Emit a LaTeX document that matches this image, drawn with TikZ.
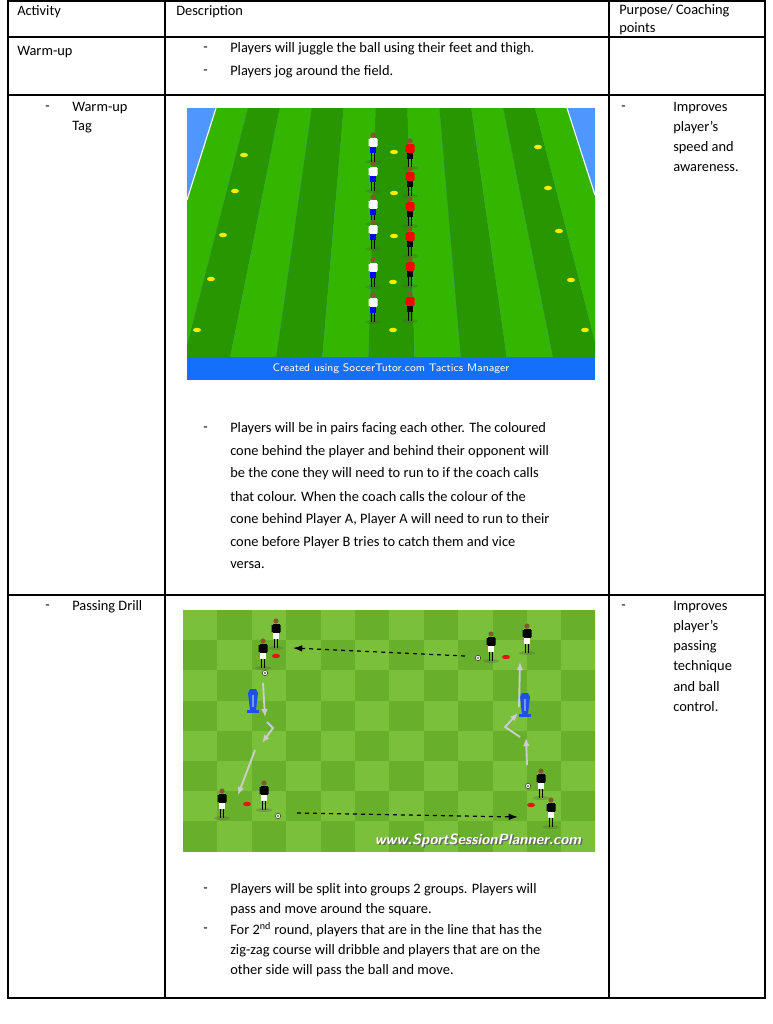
\documentclass[tikz,border=0pt]{standalone}
\usepackage{fontspec}
\setmainfont{Carlito}
\usetikzlibrary{arrows.meta}
\definecolor{grassA}{RGB}{52,182,0}
\definecolor{grassB}{RGB}{40,150,0}
\definecolor{sideblue}{RGB}{80,150,255}
\definecolor{barblue}{RGB}{20,112,250}
\definecolor{turfA}{RGB}{104,176,44}
\definecolor{turfB}{RGB}{122,192,58}
\definecolor{conered}{RGB}{230,20,20}
\definecolor{coneyel}{RGB}{255,235,0}
\definecolor{dummy}{RGB}{30,80,240}
\tikzset{
  txt/.style={anchor=west,inner sep=0pt,font=\fontsize{10.8}{13}\selectfont},
  grid line/.style={line width=0.9pt,black},
  pass/.style={dashed,line width=0.9pt,-{Latex[length=7pt,width=5pt]}},
  run/.style={line width=1.4pt,gray!40,-{Latex[length=6pt,width=5pt]}},
  pics/player/.style n args={2}{code={
    \fill[black!70,opacity=0.25] (0,0) ellipse (8 and 2);
    \draw[black,line width=1pt] (-1.5,0) -- (-1.5,-9) (1.5,0) -- (1.5,-9);
    \fill[#2] (-3.2,-15) rectangle (3.2,-9);
    \fill[#1] (-3.5,-24) rectangle (3.5,-15);
    \fill[#1] (-4.5,-23) rectangle (-3,-16) (3,-23) rectangle (4.5,-16);
    \fill[brown!70!black] (0,-27) circle (2.6);
  }},
  pics/cone/.style={code={\fill[#1] (0,0) ellipse (4 and 2.2);}},
  pics/ball/.style={code={\fill[white,draw=black,line width=0.3pt] (0,0) circle (2.6); \fill[black] (0,0) circle (0.9);}},
  pics/mannequin/.style={code={
    \fill[dummy] (-6,0) rectangle (6,-3);
    \fill[dummy] (-3,-3) -- (3,-3) -- (5,-20) -- (3,-24) -- (-3,-24) -- (-5,-20) -- cycle;
    \fill[dummy!60] (-1,-6) rectangle (1,-18);
  }}
}
\begin{document}
\begin{tikzpicture}[x=0.75pt,y=-0.75pt]
\useasboundingbox (0,0) rectangle (772,1024);
\fill[white] (0,0) rectangle (772,1024);
% field 1
\fill[sideblue] (187,108) rectangle (595,357);
\begin{scope}
  \clip (216,108) -- (567,108) -- (595,195) -- (595,357) -- (187,357) -- (187,200) -- cycle;
  \foreach \i in {0,...,10}{
    \pgfmathsetmacro\ta{216+\i*351/11}
    \pgfmathsetmacro\tb{216+(\i+1)*351/11}
    \pgfmathsetmacro\ba{138+\i*507/11}
    \pgfmathsetmacro\bb{138+(\i+1)*507/11}
    \pgfmathparse{mod(\i,2)==0 ? "grassA" : "grassB"}
    \fill[\pgfmathresult] (\ta,108) -- (\tb,108) -- (\bb,357) -- (\ba,357) -- cycle;
  }
\end{scope}
\draw[white,line width=0.8pt] (216,108) -- (187,200) (567,108) -- (595,195);
\fill[barblue] (187,357) rectangle (595,380);
\node[font=\sffamily\fontsize{8.2}{10}\selectfont,text=white,inner sep=0pt] (credit) at (391,369) {Created using SoccerTutor.com Tactics Manager};
\foreach \x/\y in {244/155,235/191,223/235,211/279,197/330,538/147,548/188,559/231,571/280,585/330,394/152,394/193,394/236,393/282,393/330}
  \pic at (\x,\y) {cone=coneyel};
\foreach \y in {162,191,224,249,287,322}
  \pic at (373,\y) {player={white}{blue}};
\foreach \y in {168,196,226,256,286,321}
  \pic at (410,\y) {player={red}{black}};
% field 2
\fill[turfA] (183,610) rectangle (595,851);
\begin{scope}
  \clip (183,610) rectangle (595,851);
  \foreach \i in {0,...,11}
    \foreach \j in {0,...,7}{
      \pgfmathparse{mod(\i+\j,2)==0 ? "turfB" : "turfA"}
      \fill[\pgfmathresult] (183+\i*34.4,610+\j*30.2) rectangle +(34.4,30.2);
    }
\end{scope}
\foreach \x/\y in {276/656,506/657,247/804,531/805}
  \pic at (\x,\y) {cone=conered};
\pic at (253,713) {mannequin};
\pic at (525,717) {mannequin};
\coordinate (tr) at (465,656); \coordinate (tl) at (293,648);
\coordinate (bl) at (297,813); \coordinate (br) at (518,817);
\draw[pass] (tr) -- (tl);
\draw[pass] (bl) -- (br);
\coordinate (l1) at (263,683); \coordinate (l2) at (265,717);
\coordinate (l3) at (267,722); \coordinate (l4) at (273,728); \coordinate (l5) at (262,743);
\coordinate (l6) at (255,750); \coordinate (l7) at (238,795);
\draw[run] (l1) -- (l2);
\draw[run] (l3) -- (l4) -- (l5);
\draw[run] (l6) -- (l7);
\coordinate (r1) at (527,765); \coordinate (r2) at (526,738);
\coordinate (r3) at (520,737); \coordinate (r4) at (505,727); \coordinate (r5) at (518,713);
\coordinate (r6) at (519,707); \coordinate (r7) at (520,662);
\draw[run] (r1) -- (r2);
\draw[run] (r3) -- (r4) -- (r5);
\draw[run] (r6) -- (r7);
\foreach \x/\y in {276/648,263/668,491/661,527/653,222/818,264/810,541/798,551/827}
  \pic at (\x,\y) {player={black}{white}};
\foreach \x/\y in {265/673,478/658,278/816,528/786}
  \pic at (\x,\y) {ball};
\node[font=\sffamily\bfseries\itshape\fontsize{11}{13}\selectfont,text=black!60,inner sep=0pt] at (479.5,842) {www.SportSessionPlanner.com};
\node[font=\sffamily\bfseries\itshape\fontsize{11}{13}\selectfont,text=white,inner sep=0pt] (site) at (478,841) {www.SportSessionPlanner.com};
% table
\draw[grid line] (8,1) rectangle (765,998);
\draw[grid line] (165,1) -- (165,998) (609,1) -- (609,998);
\draw[grid line] (8,37) -- (765,37) (8,95) -- (765,95) (8,595) -- (765,595);
\node[txt] (hact) at (17,12) {Activity};
\node[txt] (hdesc) at (176,12) {Description};
\node[txt] (hpur) at (619,11) {Purpose/ Coaching};
\node[txt] at (619,29) {points};
\node[txt] (warm) at (17,52) {Warm-up};
\node[txt] at (203,49) {-}; \node[txt] at (230,49) {Players will juggle the ball using their feet and thigh.};
\node[txt] at (203,72) {-}; \node[txt] at (230,72) {Players jog around the field.};
\node[txt] at (45,108) {-}; \node[txt] (tag) at (72,108) {Warm-up}; \node[txt] at (72,127) {Tag};
\node[txt] at (621,108) {-};
\foreach \t [count=\k] in {Improves,player’s,speed and,awareness.}
  \node[txt] at (673,88+\k*20) {\t};
\node[txt] at (203,429) {-};
\foreach \t [count=\k] in {{Players will be in pairs facing each other. The coloured},{cone behind the player and behind their opponent will},{be the cone they will need to run to if the coach calls},{that colour. When the coach calls the colour of the},{cone behind Player A, Player A will need to run to their},{cone before Player B tries to catch them and vice},{versa.}}
  \node[txt] at (230,406+\k*22.7) {\t};
\node[txt] at (45,607) {-}; \node[txt] (drill) at (72,607) {Passing Drill};
\node[txt] at (621,607) {-};
\foreach \t [count=\k] in {Improves,player’s,passing,technique,and ball,control.}
  \node[txt] at (673,587+\k*20) {\t};
\node[txt] at (203,890) {-};
\node[txt] at (230,890) {Players will be split into groups 2 groups. Players will};
\node[txt] at (230,910) {pass and move around the square.};
\node[txt] at (203,930) {-};
\node[txt] at (230,930) {For 2\textsuperscript{nd} round, players that are in the line that has the};
\node[txt] at (230,951) {zig-zag course will dribble and players that are on the};
\node[txt] at (230,971) {other side will pass the ball and move.};
\end{tikzpicture}
\end{document}
